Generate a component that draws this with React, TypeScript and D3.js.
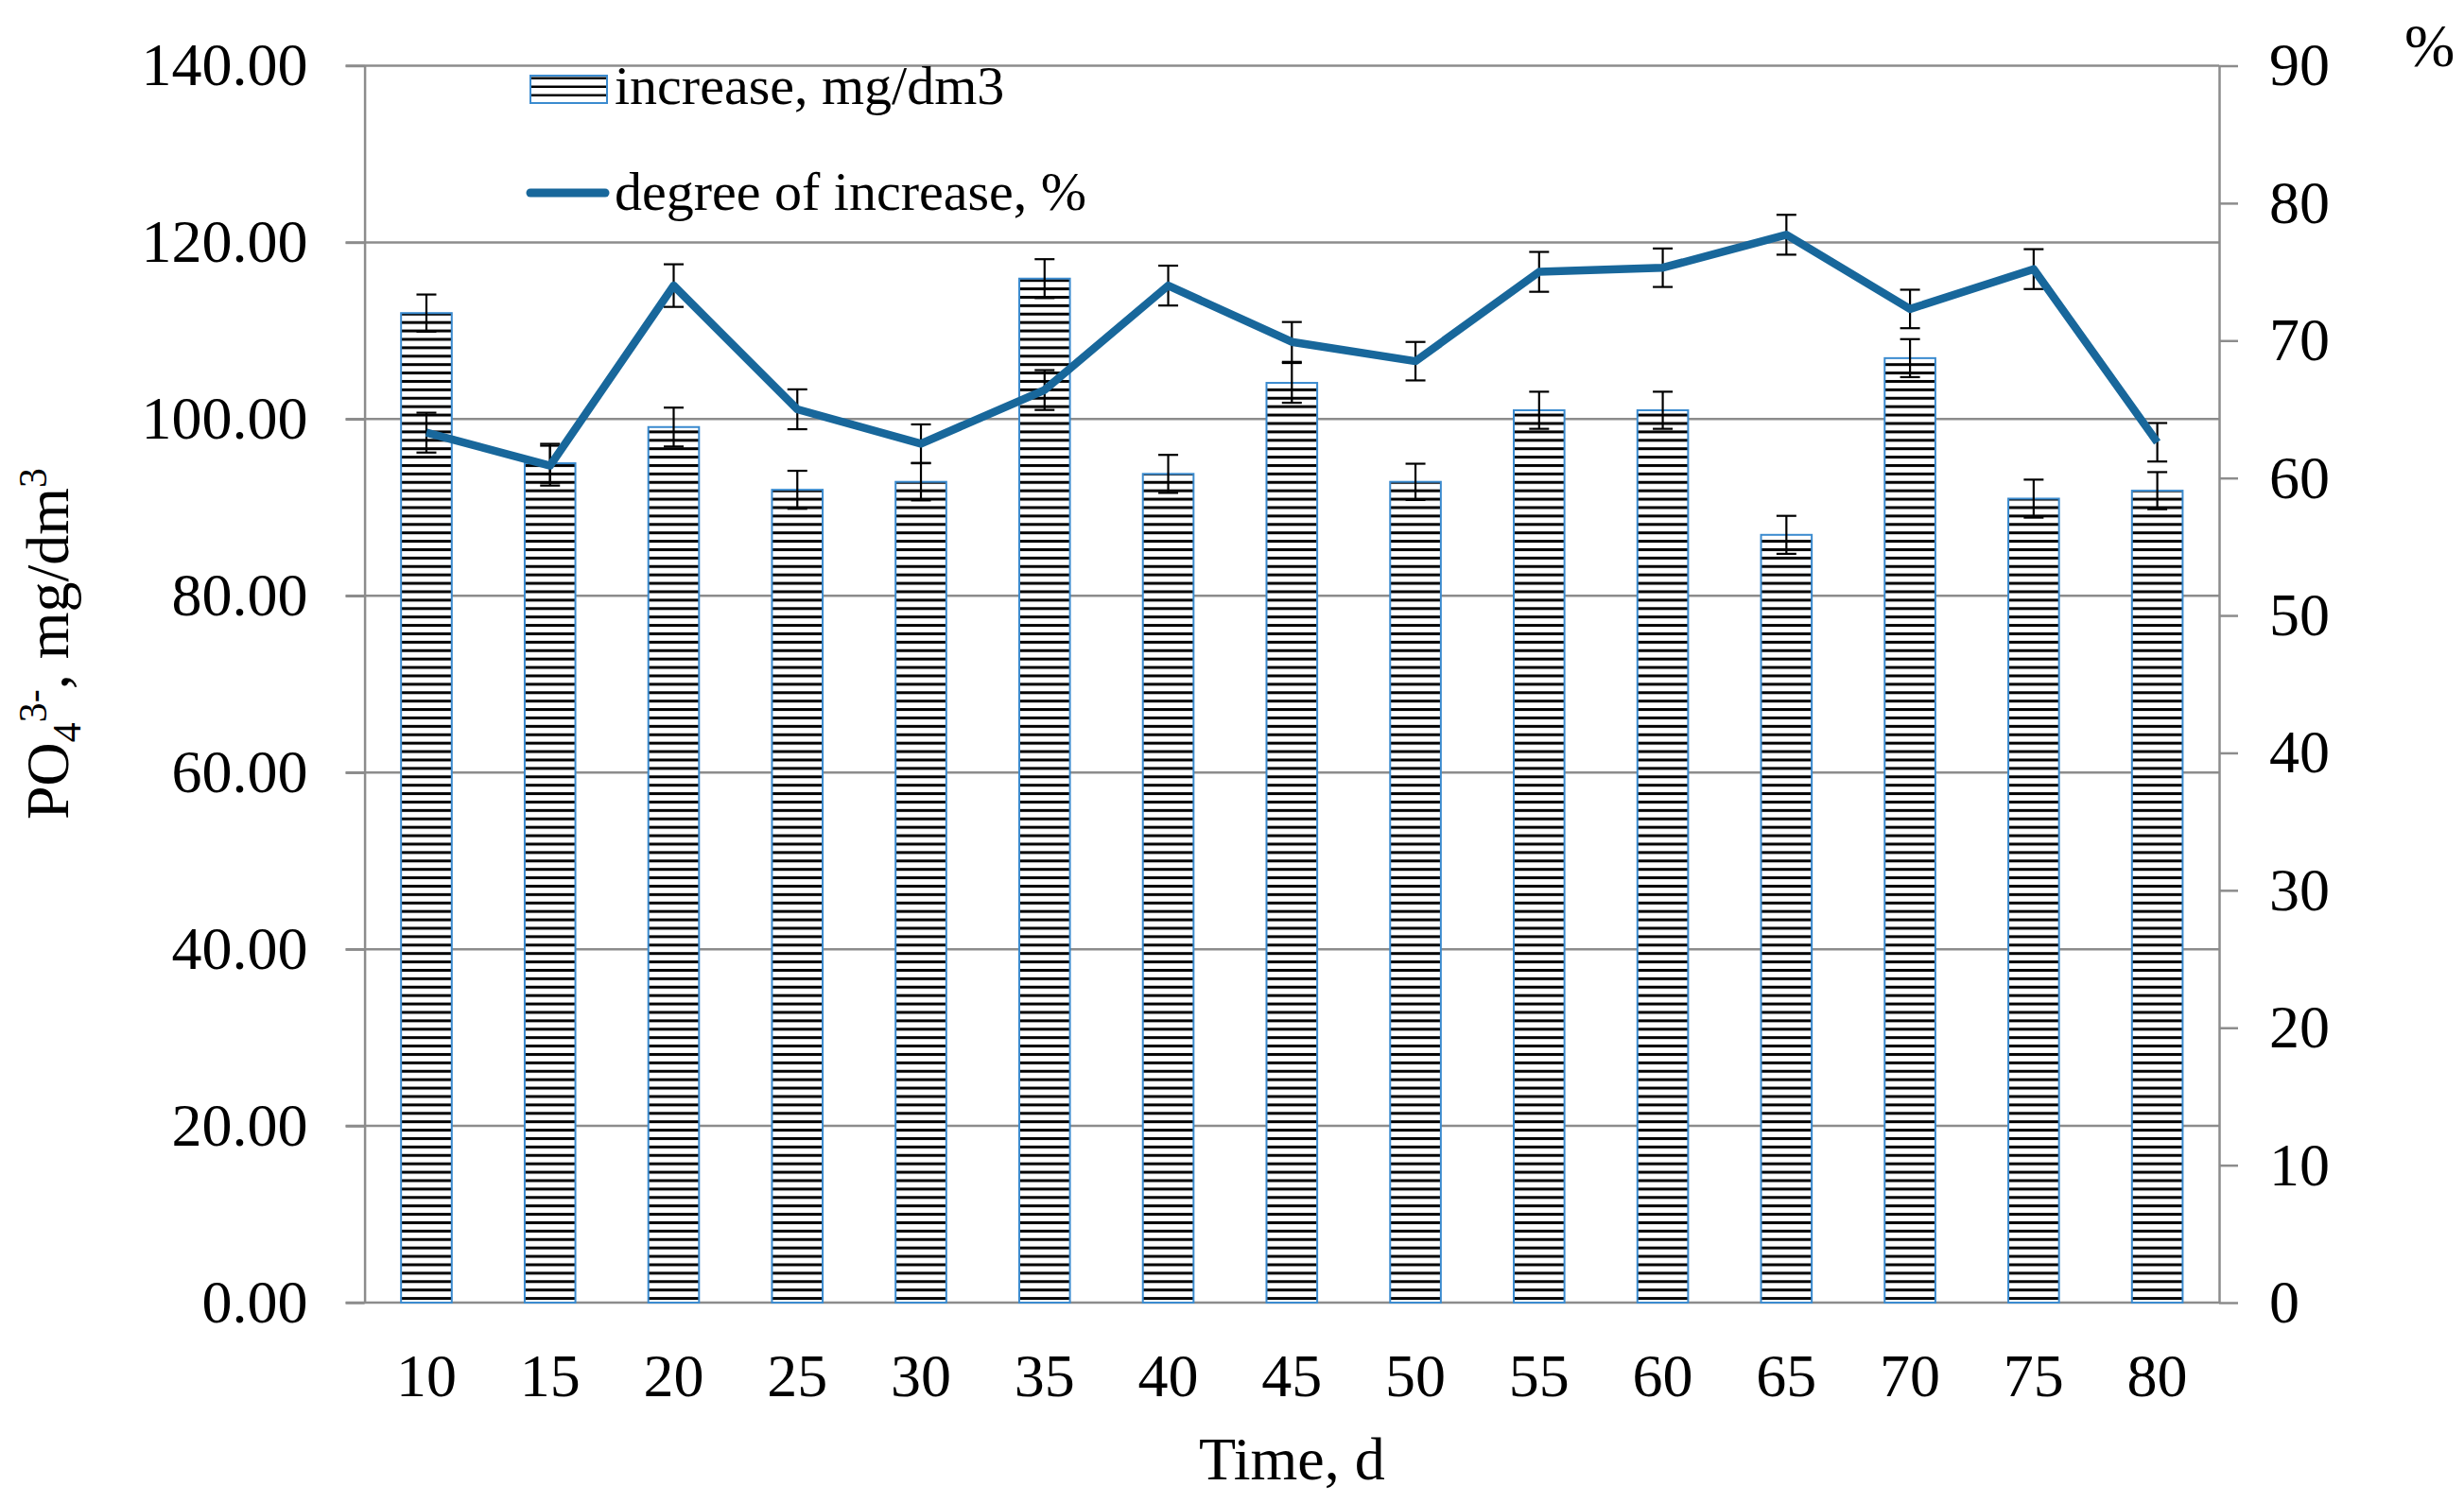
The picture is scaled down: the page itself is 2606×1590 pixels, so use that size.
import * as d3 from 'd3';
import {useEffect, useRef} from 'react';

const days = [10, 15, 20, 25, 30, 35, 40, 45, 50, 55, 60, 65, 70, 75, 80];
const increase = [112.0, 95.0, 99.1, 92.0, 92.9, 115.9, 93.8, 104.1, 92.9, 101.0, 101.0, 86.9, 106.9, 91.0, 91.9];
const increaseErr = [2.1, 2.2, 2.2, 2.15, 2.1, 2.2, 2.15, 2.25, 2.05, 2.1, 2.1, 2.15, 2.15, 2.15, 2.1];
const degree = [63.3, 60.9, 74.0, 65.0, 62.5, 66.4, 74.0, 69.9, 68.5, 75.0, 75.3, 77.7, 72.3, 75.2, 62.6];
const degreeErr = [1.45, 1.45, 1.55, 1.45, 1.4, 1.45, 1.45, 1.45, 1.4, 1.45, 1.4, 1.45, 1.4, 1.45, 1.4];
const leftTicks = [0, 20, 40, 60, 80, 100, 120, 140];
const rightTicks = [0, 10, 20, 30, 40, 50, 60, 70, 80, 90];

const W = 2606;
const H = 1590;
const FONT = '"Liberation Serif", "Times New Roman", serif';
const GRID = '#8c8c8c';
const BAR_EDGE = '#3b8bcf';
const LINE = '#18679b';

export default function App() {
	const svgRef = useRef<SVGSVGElement>(null);

	useEffect(() => {
		const svg = d3.select(svgRef.current);
		svg.selectAll('*').remove();

		const left = 385.6;
		const right = 2347;
		const top = 69.5;
		const bottom = 1378;

		const x = d3.scaleBand<number>().domain(days).range([left, right]).padding(0);
		const yL = d3.scaleLinear().domain([0, 140]).range([bottom, top]);
		const yR = d3.scaleLinear().domain([0, 90]).range([bottom, top]);
		const barW = x.bandwidth() * 0.41;
		const cx = (d: number) => x(d)! + x.bandwidth() / 2;

		// hatch pattern
		const defs = svg.append('defs');
		const pat = defs
			.append('pattern')
			.attr('id', 'hatch')
			.attr('patternUnits', 'userSpaceOnUse')
			.attr('width', 10)
			.attr('height', 8.9)
			.attr('y', bottom);
		pat.append('rect').attr('width', 10).attr('height', 8.9).attr('fill', '#fff');
		pat.append('rect').attr('y', 3).attr('width', 10).attr('height', 3).attr('fill', '#000');

		// gridlines
		svg
			.append('g')
			.selectAll('line')
			.data(leftTicks)
			.join('line')
			.attr('x1', left - 20)
			.attr('x2', right)
			.attr('y1', (d) => yL(d))
			.attr('y2', (d) => yL(d))
			.attr('stroke', GRID)
			.attr('stroke-width', 2.5);

		// left axis
		const gl = svg
			.append('g')
			.attr('transform', `translate(${left},0)`)
			.call(
				d3
					.axisLeft(yL)
					.tickValues(leftTicks)
					.tickSizeInner(20)
					.tickSizeOuter(0)
					.tickPadding(40)
					.tickFormat(d3.format('.2f') as any)
			);
		gl.selectAll('path, line').attr('stroke', GRID).attr('stroke-width', 2.5);
		gl.selectAll('text').attr('font-family', FONT).attr('font-size', 64).attr('fill', '#000');

		// right axis
		const gr = svg
			.append('g')
			.attr('transform', `translate(${right},0)`)
			.call(d3.axisRight(yR).tickValues(rightTicks).tickSizeInner(20).tickSizeOuter(0).tickPadding(33));
		gr.selectAll('path, line').attr('stroke', GRID).attr('stroke-width', 2.5);
		gr.selectAll('text').attr('font-family', FONT).attr('font-size', 64).attr('fill', '#000');

		// x labels
		svg
			.append('g')
			.selectAll('text')
			.data(days)
			.join('text')
			.attr('x', (d) => cx(d))
			.attr('y', 1477)
			.attr('text-anchor', 'middle')
			.attr('font-family', FONT)
			.attr('font-size', 64)
			.text((d) => d);

		// bars
		svg
			.append('g')
			.selectAll('rect')
			.data(days)
			.join('rect')
			.attr('x', (d) => cx(d) - barW / 2)
			.attr('y', (_, i) => yL(increase[i]))
			.attr('width', barW)
			.attr('height', (_, i) => bottom - yL(increase[i]))
			.attr('fill', 'url(#hatch)')
			.attr('stroke', BAR_EDGE)
			.attr('stroke-width', 2);

		const errBars = (vals: number[], errs: number[], scale: d3.ScaleLinear<number, number>) => {
			const g = svg.append('g').attr('stroke', '#000').attr('stroke-width', 2.2);
			days.forEach((d, i) => {
				const x0 = cx(d);
				const y1 = scale(vals[i] + errs[i]);
				const y2 = scale(vals[i] - errs[i]);
				g.append('line').attr('x1', x0).attr('x2', x0).attr('y1', y1).attr('y2', y2);
				g.append('line').attr('x1', x0 - 10.5).attr('x2', x0 + 10.5).attr('y1', y1).attr('y2', y1);
				g.append('line').attr('x1', x0 - 10.5).attr('x2', x0 + 10.5).attr('y1', y2).attr('y2', y2);
			});
		};
		errBars(increase, increaseErr, yL);
		errBars(degree, degreeErr, yR);

		// line
		const line = d3
			.line<number>()
			.x((d) => cx(d))
			.y((_, i) => yR(degree[i]));
		svg
			.append('path')
			.datum(days)
			.attr('d', line)
			.attr('fill', 'none')
			.attr('stroke', LINE)
			.attr('stroke-width', 8.5)
			.attr('stroke-linejoin', 'round');

		// legend
		const lg = svg.append('g').attr('font-family', FONT).attr('font-size', 58);
		const lpat = defs
			.append('pattern')
			.attr('id', 'hatchLegend')
			.attr('patternUnits', 'userSpaceOnUse')
			.attr('width', 10)
			.attr('height', 9)
			.attr('y', 79);
		lpat.append('rect').attr('width', 10).attr('height', 9).attr('fill', '#fff');
		lpat.append('rect').attr('y', 2.5).attr('width', 10).attr('height', 2.5).attr('fill', '#000');
		lg.append('rect')
			.attr('x', 561)
			.attr('y', 80)
			.attr('width', 81)
			.attr('height', 29)
			.attr('fill', 'url(#hatchLegend)')
			.attr('stroke', BAR_EDGE)
			.attr('stroke-width', 2);
		lg.append('text').attr('x', 650).attr('y', 110).text('increase, mg/dm3');
		lg.append('line')
			.attr('x1', 561)
			.attr('x2', 640)
			.attr('y1', 204)
			.attr('y2', 204)
			.attr('stroke', LINE)
			.attr('stroke-width', 9)
			.attr('stroke-linecap', 'round');
		lg.append('text').attr('x', 650).attr('y', 222).text('degree of increase, %');

		// axis titles
		svg
			.append('text')
			.attr('x', (left + right) / 2)
			.attr('y', 1565)
			.attr('text-anchor', 'middle')
			.attr('font-family', FONT)
			.attr('font-size', 64)
			.text('Time, d');

		svg.append('text').attr('x', 2543).attr('y', 70).attr('font-family', FONT).attr('font-size', 64).text('%');

		const yt = svg
			.append('text')
			.attr('transform', 'translate(72,681) rotate(-90)')
			.attr('text-anchor', 'middle')
			.attr('font-family', FONT)
			.attr('font-size', 64);
		yt.append('tspan').text('PO');
		yt.append('tspan').attr('font-size', 42).attr('dy', 13).text('4');
		yt.append('tspan').attr('font-size', 42).attr('dy', -36).text('3-');
		yt.append('tspan').attr('dy', 23).text(', mg/dm');
		yt.append('tspan').attr('font-size', 42).attr('dy', -23).text('3');
	}, []);

	return (
		<svg
			ref={svgRef}
			width={W}
			height={H}
			style={{position: 'absolute', left: 0, top: 0, background: '#fff'}}
		/>
	);
}
